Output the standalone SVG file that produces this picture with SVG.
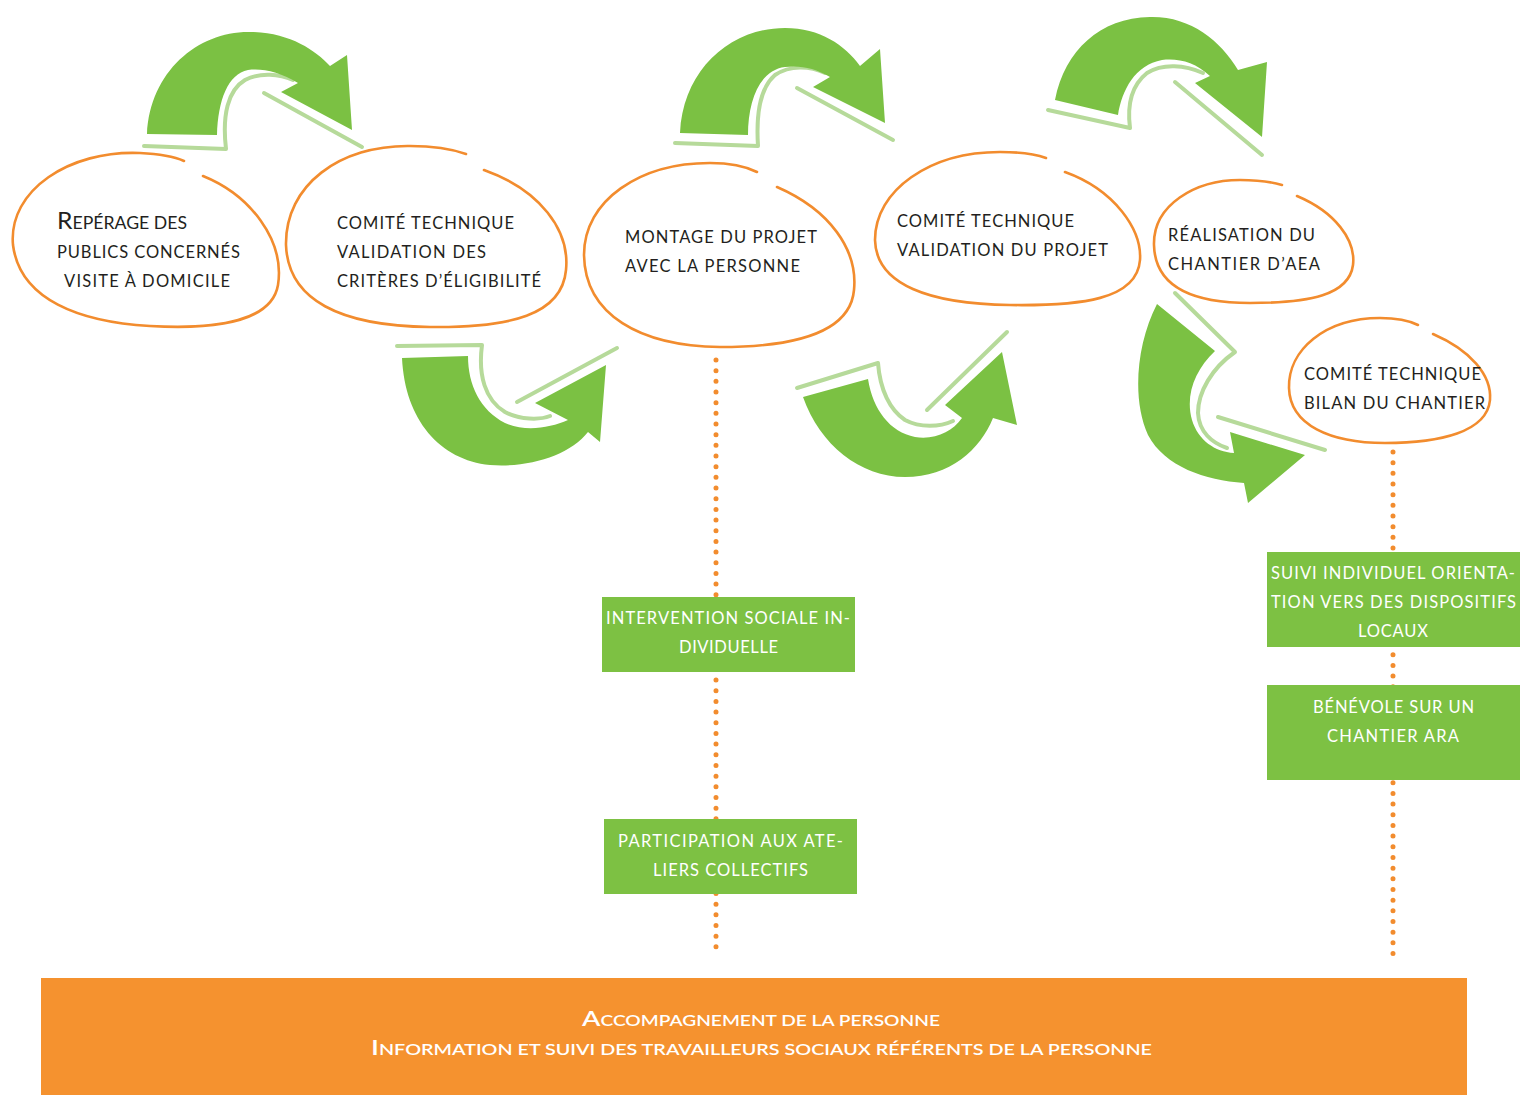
<svg xmlns="http://www.w3.org/2000/svg" width="1520" height="1095" viewBox="0 0 1520 1095">
<style>
.blob{fill:none;stroke:#F28C2E;stroke-width:2.6;stroke-linecap:round}
.arrow{fill:#7BC143}
.shadow{fill:none;stroke:#B6DA9A;stroke-width:4;stroke-linecap:round;stroke-linejoin:round}
.dots{fill:none;stroke:#F28C2E;stroke-width:5;stroke-linecap:round;stroke-dasharray:0 10.67}
.box{fill:#7DC143}
.t{font-family:Lato,"Open Sans",sans-serif;font-size:16.5px;fill:#231F20}
.w{font-family:Lato,"Open Sans",sans-serif;font-size:16.5px;fill:#FFFFFF}
.b{font-family:Lato,"Open Sans",sans-serif;font-size:15px;fill:#FFFFFF;font-weight:600}
.big{font-size:23px}
.bigw{font-size:21px}
</style>
<rect x="0" y="0" width="1520" height="1095" fill="#FFFFFF"/>

<g id="connectors">
  <line class="dots" x1="716" y1="360" x2="716" y2="955"/>
  <line class="dots" x1="1393" y1="452" x2="1393" y2="960"/>
  <g id="arrow1">
    <path class="shadow" d="M144,146 L226,149 C222,115 228,90 245,80 C260,72 280,74 293,80"/>
    <path class="shadow" d="M264,93 L362,147"/>
    <path class="arrow" d="M147,134 C150,70 200,30 252,32 C290,33 315,50 330,66 L347,55 L352,130 L281,92 L298,83 C280,72 262,68 248,70 C228,74 218,100 217,135 Z"/>
  </g>
  <g id="arrow2">
    <path class="shadow" d="M397,346 L482,345 C478,375 485,400 505,412 C520,420 540,420 550,416"/>
    <path class="shadow" d="M517,402 L617,348"/>
    <path class="arrow" d="M402,358 L468,356 C468,385 480,410 505,423 C525,432 550,428 568,420 L535,403 L606,365 L600,442 L588,432 C570,455 530,468 490,465 C440,460 405,420 402,358 Z"/>
  </g>
  <g id="arrow3">
    <path class="shadow" d="M675,143 L758,146 C756,115 760,88 775,75 C790,65 810,66 825,73"/>
    <path class="shadow" d="M797,88 L893,140"/>
    <path class="arrow" d="M680,133 C683,70 730,28 785,28 C820,28 845,45 860,66 L880,49 L885,123 L813,87 L830,77 C815,68 800,65 785,67 C760,70 748,100 748,135 Z"/>
  </g>
  <g id="arrow4">
    <path class="shadow" d="M797,388 L878,363 C880,390 890,410 905,420 C920,428 940,427 953,421"/>
    <path class="shadow" d="M927,410 L1007,332"/>
    <path class="arrow" d="M803,397 L868,379 C873,410 890,432 915,437 C935,440 952,432 962,418 L945,405 L1002,352 L1017,425 L993,418 C980,450 950,477 905,477 C860,477 820,445 803,397 Z"/>
  </g>
  <g id="arrow5">
    <path class="shadow" d="M1048,110 L1130,128 C1127,105 1132,85 1147,73 C1163,63 1185,65 1203,73"/>
    <path class="shadow" d="M1175,82 L1262,155"/>
    <path class="arrow" d="M1055,100 C1065,50 1100,18 1150,17 C1190,16 1220,40 1238,70 L1267,62 L1262,137 L1195,83 L1210,76 C1195,62 1178,58 1162,60 C1135,65 1122,90 1118,115 Z"/>
  </g>
  <g id="arrow6">
    <path class="shadow" d="M1175,293 L1235,352 C1212,368 1198,392 1198,413 C1199,432 1212,443 1227,448"/>
    <path class="shadow" d="M1218,417 L1325,450"/>
    <path class="arrow" d="M1157,304 L1215,351 C1195,370 1185,395 1192,420 C1198,440 1215,452 1234,453 L1230,432 L1305,455 L1248,503 L1244,483 C1205,480 1165,467 1148,435 C1132,400 1136,345 1157,304 Z"/>
  </g>
</g>

<g id="node1">
  <path class="blob" d="M203,176 C250,195 285,240 278,285 C272,320 220,330 150,326 C80,322 20,300 13,245 C8,190 70,150 140,153 C160,154 175,157 184,161"/>
  <text class="t" x="57" y="229" textLength="130" lengthAdjust="spacingAndGlyphs"><tspan class="big">R</tspan>EPÉRAGE DES</text>
  <text class="t" x="57" y="258" textLength="183">PUBLICS CONCERNÉS</text>
  <text class="t" x="64" y="287" textLength="166">VISITE À DOMICILE</text>
</g>
<g id="node2">
  <path class="blob" d="M484,170 C540,190 570,230 566,270 C562,315 510,328 430,327 C340,326 288,300 286,245 C285,185 340,145 410,146 C435,146 452,149 466,154"/>
  <text class="t" x="337" y="229" textLength="177">COMITÉ TECHNIQUE</text>
  <text class="t" x="337" y="258" textLength="149">VALIDATION DES</text>
  <text class="t" x="337" y="287" textLength="204">CRITÈRES D’ÉLIGIBILITÉ</text>
</g>
<g id="node3">
  <path class="blob" d="M777,187 C830,210 858,250 854,290 C850,335 790,347 720,347 C640,346 585,315 584,255 C584,200 640,163 710,163 C730,163 745,166 757,172"/>
  <text class="t" x="625" y="243" textLength="192">MONTAGE DU PROJET</text>
  <text class="t" x="625" y="272" textLength="175">AVEC LA PERSONNE</text>
</g>
<g id="node4">
  <path class="blob" d="M1065,172 C1115,190 1142,230 1140,260 C1137,300 1080,306 1010,305 C930,304 876,285 875,240 C875,190 930,152 1000,152 C1020,152 1035,154 1046,158"/>
  <text class="t" x="897" y="227" textLength="177">COMITÉ TECHNIQUE</text>
  <text class="t" x="897" y="256" textLength="211">VALIDATION DU PROJET</text>
</g>
<g id="node5">
  <path class="blob" d="M1297,196 C1335,212 1356,240 1353,265 C1349,295 1310,303 1250,303 C1190,303 1155,285 1154,245 C1153,205 1195,180 1240,180 C1258,180 1272,182 1282,185"/>
  <text class="t" x="1168" y="241" textLength="147">RÉALISATION DU</text>
  <text class="t" x="1168" y="270" textLength="152">CHANTIER D’AEA</text>
</g>
<g id="node6">
  <path class="blob" d="M1433,334 C1470,350 1492,375 1490,400 C1487,432 1440,443 1385,443 C1330,443 1290,425 1289,388 C1288,350 1325,318 1380,318 C1398,318 1410,321 1418,325"/>
  <text class="t" x="1304" y="380" textLength="177">COMITÉ TECHNIQUE</text>
  <text class="t" x="1304" y="409" textLength="181">BILAN DU CHANTIER</text>
</g>

<g id="box1">
  <rect class="box" x="602" y="597" width="253" height="75"/>
  <text class="w" x="606" y="624" textLength="244">INTERVENTION SOCIALE IN-</text>
  <text class="w" x="679" y="653" textLength="99">DIVIDUELLE</text>
</g>
<g id="box2">
  <rect class="box" x="604" y="819" width="253" height="75"/>
  <text class="w" x="618" y="847" textLength="225">PARTICIPATION AUX ATE-</text>
  <text class="w" x="653" y="876" textLength="155">LIERS COLLECTIFS</text>
</g>
<g id="box3">
  <rect class="box" x="1267" y="552" width="253" height="95"/>
  <text class="w" x="1271" y="579" textLength="244">SUIVI INDIVIDUEL ORIENTA-</text>
  <text class="w" x="1271" y="608" textLength="245">TION VERS DES DISPOSITIFS</text>
  <text class="w" x="1358" y="637" textLength="70">LOCAUX</text>
</g>
<g id="box4">
  <rect class="box" x="1267" y="685" width="253" height="95"/>
  <text class="w" x="1313" y="713" textLength="161">BÉNÉVOLE SUR UN</text>
  <text class="w" x="1327" y="742" textLength="132">CHANTIER ARA</text>
</g>

<g id="bar">
  <rect x="41" y="978" width="1426" height="117" fill="#F5922F"/>
  <text class="b" x="582" y="1026" textLength="358" lengthAdjust="spacingAndGlyphs"><tspan class="bigw">A</tspan>CCOMPAGNEMENT DE LA PERSONNE</text>
  <text class="b" x="371" y="1055" textLength="781" lengthAdjust="spacingAndGlyphs"><tspan class="bigw">I</tspan>NFORMATION ET SUIVI DES TRAVAILLEURS SOCIAUX RÉFÉRENTS DE LA PERSONNE</text>
</g>
</svg>
